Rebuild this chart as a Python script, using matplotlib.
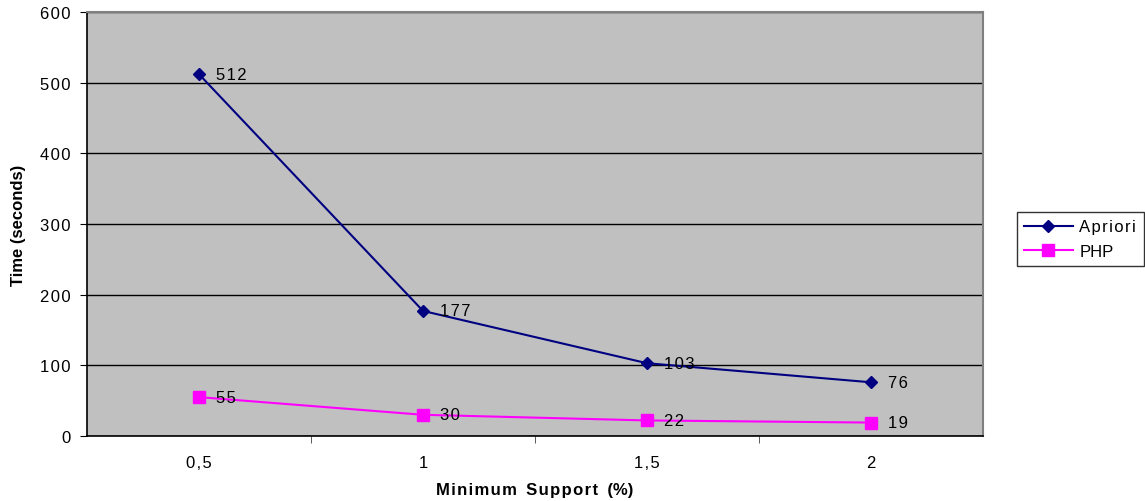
import matplotlib.pyplot as plt
from matplotlib.lines import Line2D

plt.rcParams["font.family"] = ["Liberation Sans", "DejaVu Sans"]

categories = ["0,5", "1", "1,5", "2"]
apriori = [512, 177, 103, 76]
php = [55, 30, 22, 19]
y_ticks = [0, 100, 200, 300, 400, 500, 600]

FS = 12


def spaced(s):
    # loose letter spacing, as the old spreadsheet export draws it
    return "\u200a".join(s)


fig = plt.figure(figsize=(11.45, 5.02), dpi=100)
ax = fig.add_axes([0.076, 0.1295, 0.7825, 0.8445])
ax.set_facecolor("#C0C0C0")

x = list(range(len(categories)))
ax.plot(x, apriori, color="#000080", lw=1.5, marker="D", ms=6,
        mec="#000080", mfc="#000080", zorder=3, clip_on=False)
ax.plot(x, php, color="#FF00FF", lw=1.5, marker="s", ms=8,
        mec="#FF00FF", mfc="#FF00FF", zorder=3, clip_on=False)

for xi, v in zip(x, apriori):
    ax.annotate(spaced(str(v)), (xi, v), xytext=(12, 0), textcoords="offset points",
                va="center", ha="left", fontsize=FS)
for xi, v in zip(x, php):
    ax.annotate(spaced(str(v)), (xi, v), xytext=(12, 0), textcoords="offset points",
                va="center", ha="left", fontsize=FS)

ax.set_xlim(-0.5, len(categories) - 0.5)
ax.set_ylim(0, 600)
ax.set_yticks(y_ticks)
ax.set_yticklabels([spaced(str(t)) for t in y_ticks], fontsize=FS)
ax.yaxis.grid(True, color="black", lw=1)
ax.set_axisbelow(True)

ax.set_xticks(x)
ax.set_xticklabels([spaced(c) for c in categories], fontsize=FS)
ax.tick_params(axis="x", which="major", length=0, pad=14)
ax.set_xticks([i + 0.5 for i in x[:-1]], minor=True)
ax.tick_params(axis="x", which="minor", length=5, direction="out", color="#404040")
ax.tick_params(axis="y", length=5, direction="out", pad=7)

for side in ("left", "bottom"):
    ax.spines[side].set_color("black")
    ax.spines[side].set_linewidth(1.2)
for side in ("top", "right"):
    ax.spines[side].set_color("#808080")
    ax.spines[side].set_linewidth(1.5)

ax.set_ylabel("Time (seconds)", fontsize=FS, fontweight="bold", labelpad=10)
ax.set_xlabel(spaced("Minimum") + "  " + spaced("Support") + "  (%)",
              fontsize=FS, fontweight="bold", labelpad=8)

handles = [
    Line2D([], [], color="#000080", lw=1.5, marker="D", ms=6),
    Line2D([], [], color="#FF00FF", lw=1.5, marker="s", ms=8),
]
leg = fig.legend(handles, [spaced("Apriori"), "PHP"], loc="upper left",
                 bbox_to_anchor=(0.888, 0.576), fontsize=FS, frameon=True,
                 fancybox=False, edgecolor="black", handlelength=2.9,
                 handletextpad=0.4, borderpad=0.45, labelspacing=0.55,
                 borderaxespad=0)
leg.get_frame().set_linewidth(1.0)

fig.savefig("out.png")
